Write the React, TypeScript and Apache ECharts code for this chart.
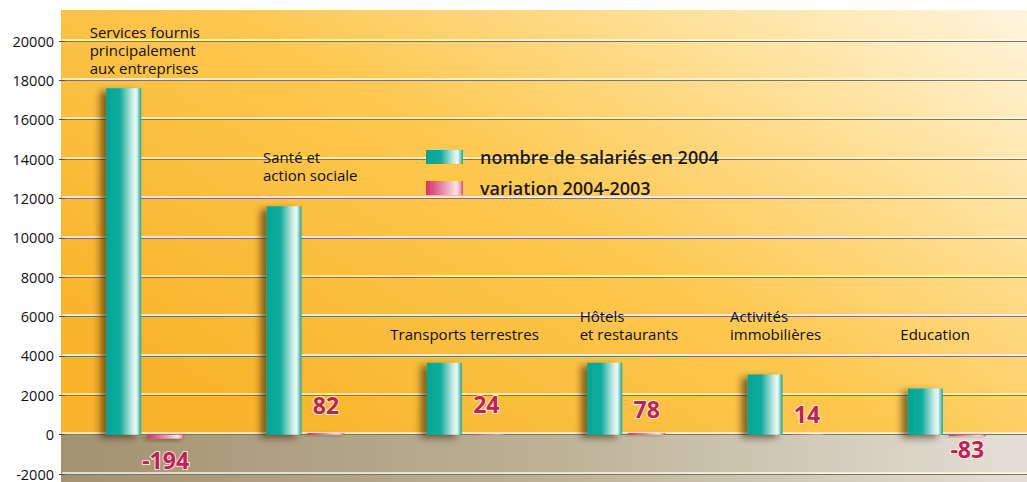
import React, { useEffect, useRef } from "react";
import * as echarts from "echarts";

const categories = [
  "Services fournis\nprincipalement\naux entreprises",
  "Santé et\naction sociale",
  "Transports terrestres",
  "Hôtels\net restaurants",
  "Activités\nimmobilières",
  "Education",
];
const salaries2004 = [17600, 11600, 3650, 3650, 3050, 2340];
const variation0403 = [-194, 82, 24, 78, 14, -83];
const seriesNames = ["nombre de salariés en 2004", "variation 2004-2003"];
const yMin = -2000;
const yMax = 20000;
const yStep = 2000;

// layout-only: offsets of category captions relative to the top of each teal bar
const captionOffsets = [
  [-34, -11],
  [-21, -22],
  [-54, -20],
  [-25, -20],
  [-35, -32],
  [-25, -46],
];
// layout-only: distance of variation labels from their bar
const variationLabelDist = [10, 17, 19, 13, 9, 1];

const FONT = "'Open Sans', 'Noto Sans', sans-serif";

export default function App() {
  const ref = useRef<HTMLDivElement>(null);

  useEffect(() => {
    if (!ref.current) return;
    const chart = echarts.init(ref.current, null, { renderer: "svg" });

    const tealGradient = new echarts.graphic.LinearGradient(0, 0, 1, 0, [
      { offset: 0, color: "#00A696" },
      { offset: 0.4, color: "#12AC9D" },
      { offset: 0.75, color: "#CDEBE6" },
      { offset: 0.86, color: "#EEF8F6" },
      { offset: 0.93, color: "#7FD0C6" },
      { offset: 1, color: "#0DAA9A" },
    ]);
    const pinkGradient = new echarts.graphic.LinearGradient(0, 0, 1, 0, [
      { offset: 0, color: "#D3336A" },
      { offset: 0.4, color: "#E77FA0" },
      { offset: 0.82, color: "#FBE3EA" },
      { offset: 0.92, color: "#F2A9C0" },
      { offset: 1, color: "#DB4677" },
    ]);

    const tealData = salaries2004.map((v, i) => ({
      value: v,
      label: { offset: captionOffsets[i] },
    }));
    const pinkData = variation0403.map((v, i) => ({
      value: v,
      label: {
        position: v < 0 ? "bottom" : "top",
        distance: variationLabelDist[i],
      },
    }));

    chart.setOption({
      animation: false,
      backgroundColor: "#FFFFFF",
      graphic: [
        {
          type: "rect",
          z: -10,
          silent: true,
          shape: { x: 61, y: 10, width: 966, height: 424 },
          style: {
            fill: new echarts.graphic.LinearGradient(0, 0.7, 1, 0, [
              { offset: 0, color: "#F8B42B" },
              { offset: 0.45, color: "#FDC84F" },
              { offset: 0.75, color: "#FFE19A" },
              { offset: 1, color: "#FFF5DF" },
            ]),
          },
        },
        {
          type: "rect",
          z: -10,
          silent: true,
          shape: { x: 61, y: 434, width: 966, height: 48 },
          style: {
            fill: new echarts.graphic.LinearGradient(0, 0, 1, 0, [
              { offset: 0, color: "#A39271" },
              { offset: 0.5, color: "#BCB195" },
              { offset: 1, color: "#E4DFD6" },
            ]),
          },
        },
      ],
      legend: {
        orient: "vertical",
        left: 421,
        top: 143,
        itemWidth: 37,
        itemHeight: 14,
        itemGap: 13,
        icon: "rect",
        textStyle: {
          fontFamily: FONT,
          fontSize: 18,
          fontWeight: 600,
          color: "#1A1A1A",
          padding: [0, 0, 0, 12],
        },
        data: seriesNames,
      },
      grid: [
        { left: 65, right: -6, top: 41, bottom: 8, containLabel: false },
        { left: 62, right: 0, top: 39.5, bottom: 9.5, containLabel: false },
      ],
      xAxis: [
        {
          type: "category",
          gridIndex: 0,
          data: categories,
          axisLine: { show: false },
          axisTick: { show: false },
          axisLabel: { show: false },
          splitLine: { show: false },
        },
        {
          type: "category",
          gridIndex: 1,
          data: categories,
          show: false,
        },
      ],
      yAxis: [
        {
          type: "value",
          gridIndex: 0,
          min: yMin,
          max: yMax,
          interval: yStep,
          axisLine: { show: false },
          axisTick: {
            show: true,
            length: 6,
            lineStyle: { color: "#555", width: 1 },
          },
          axisLabel: {
            fontFamily: FONT,
            fontSize: 14.5,
            color: "#111",
            margin: 11,
            formatter: (v: number) => String(v),
          },
          splitLine: {
            show: true,
            lineStyle: { color: "#7E7562", width: 1 },
          },
        },
        {
          type: "value",
          gridIndex: 1,
          min: yMin,
          max: yMax,
          interval: yStep,
          axisLine: { show: false },
          axisTick: { show: false },
          axisLabel: { show: false },
          splitLine: {
            show: true,
            lineStyle: { color: "rgba(255,249,232,0.95)", width: 1.5 },
          },
        },
      ],
      series: [
        {
          name: seriesNames[0],
          type: "bar",
          xAxisIndex: 0,
          yAxisIndex: 0,
          data: tealData,
          barWidth: 35,
          barGap: "17%",
          itemStyle: {
            color: tealGradient,
            shadowColor: "rgba(50,30,0,0.6)",
            shadowBlur: 7,
            shadowOffsetX: -6,
            shadowOffsetY: 3,
          },
          label: {
            show: true,
            position: "top",
            distance: 0,
            align: "left",
            verticalAlign: "bottom",
            formatter: (p: any) => categories[p.dataIndex],
            fontFamily: FONT,
            fontSize: 15,
            lineHeight: 18,
            color: "#0E0E0E",
          },
        },
        {
          name: seriesNames[1],
          type: "bar",
          xAxisIndex: 0,
          yAxisIndex: 0,
          data: pinkData,
          barWidth: 37,
          itemStyle: {
            color: pinkGradient,
            shadowColor: "rgba(60,40,0,0.45)",
            shadowBlur: 4,
            shadowOffsetX: -3,
            shadowOffsetY: 2,
          },
          label: {
            show: true,
            formatter: (p: any) => String(p.value),
            fontFamily: FONT,
            fontSize: 23,
            fontWeight: "bold",
            color: "#C41E58",
            textBorderColor: "rgba(255,244,228,0.85)",
            textBorderWidth: 2,
          },
        },
      ],
    });

    return () => {
      chart.dispose();
    };
  }, []);

  return (
    <div
      ref={ref}
      style={{
        position: "fixed",
        left: 0,
        top: 0,
        width: 1027,
        height: 482,
      }}
    />
  );
}
